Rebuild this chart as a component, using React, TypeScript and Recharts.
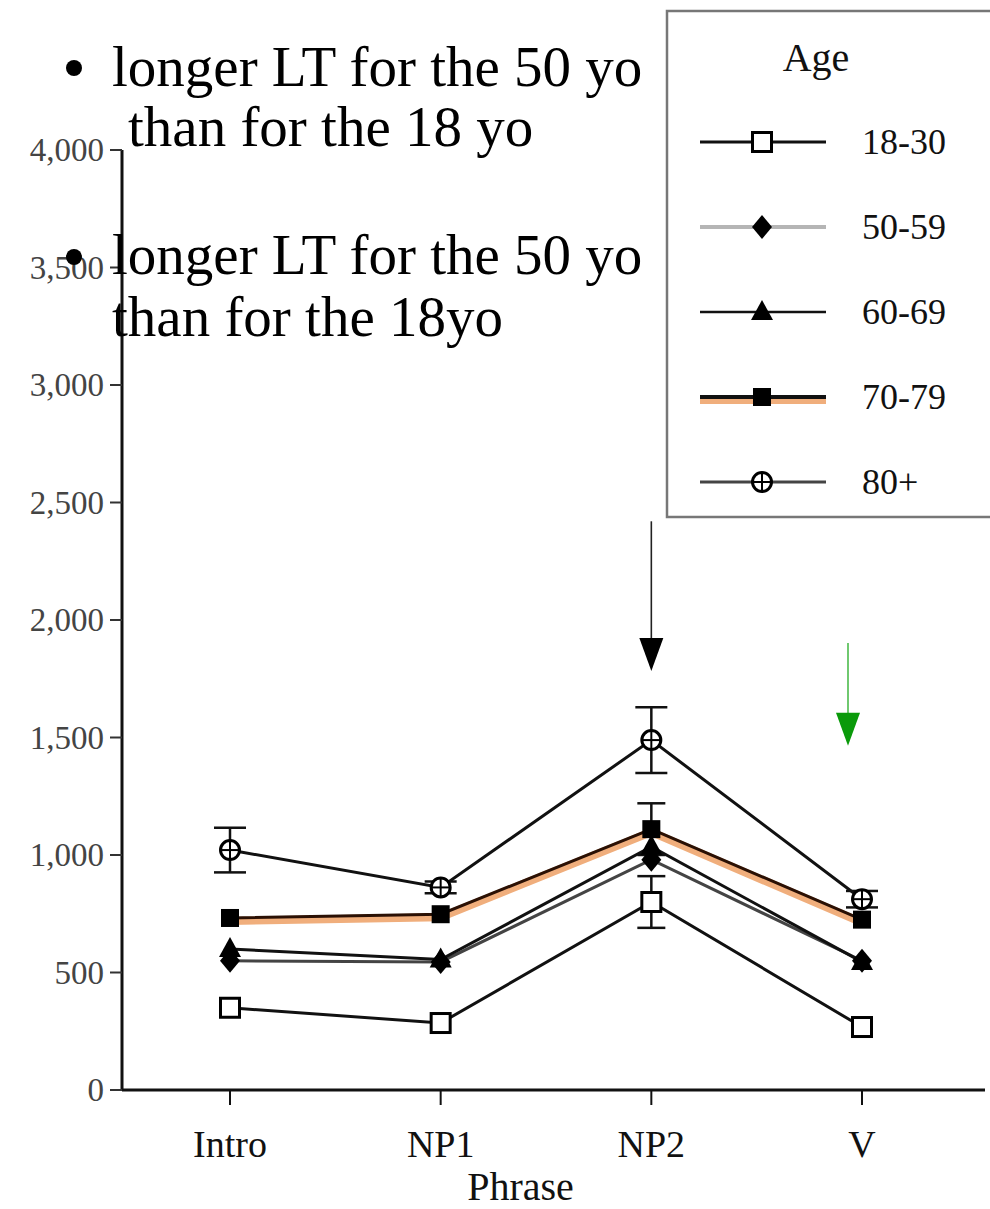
import React from "react";
import { LineChart, Line, XAxis, YAxis, ErrorBar, ReferenceLine } from "recharts";

const phrases = ["Intro", "NP1", "NP2", "V"];
const age18to30 = [350, 285, 800, 268];
const age50to59 = [550, 545, 980, 550];
const age60to69 = [600, 555, 1035, 545];
const age70to79 = [732, 748, 1110, 725];
const age80plus = [1021, 862, 1489, 812];
const err18to30 = [0, 0, 110, 0];
const err70to79 = [0, 0, 110, 0];
const err80plus = [95, 25, 140, 35];
const yTicks = [0, 500, 1000, 1500, 2000, 2500, 3000, 3500, 4000];
const ageGroups = ["18-30", "50-59", "60-69", "70-79", "80+"];

const data = phrases.map((phrase, i) => ({
  phrase,
  a1830: age18to30[i],
  a5059: age50to59[i],
  a6069: age60to69[i],
  a7079: age70to79[i],
  a80: age80plus[i],
  e1830: err18to30[i],
  e7079: err70to79[i],
  e80: err80plus[i],
}));

const serif = "'Liberation Serif', 'Times New Roman', serif";

type Kind = "openSquare" | "diamond" | "triangle" | "square" | "circle";

function Marker({ kind, cx, cy }: { kind: Kind; cx: number; cy: number }) {
  if (kind === "openSquare")
    return <rect x={cx - 9.5} y={cy - 9.5} width={19} height={19} fill="#fff" stroke="#000" strokeWidth={3} />;
  if (kind === "diamond")
    return <polygon points={`${cx},${cy - 12} ${cx + 10},${cy} ${cx},${cy + 12} ${cx - 10},${cy}`} fill="#000" />;
  if (kind === "triangle")
    return <polygon points={`${cx},${cy - 12} ${cx + 11},${cy + 8} ${cx - 11},${cy + 8}`} fill="#000" />;
  if (kind === "square") return <rect x={cx - 9} y={cy - 9} width={18} height={18} fill="#000" />;
  return (
    <g>
      <circle cx={cx} cy={cy} r={9.5} fill="#fff" stroke="#000" strokeWidth={3} />
      <line x1={cx - 9} y1={cy} x2={cx + 9} y2={cy} stroke="#000" strokeWidth={2} />
      <line x1={cx} y1={cy - 9} x2={cx} y2={cy + 9} stroke="#000" strokeWidth={2} />
    </g>
  );
}

const dotOf = (kind: Kind) => (p: any) => <Marker key={`${kind}-${p.index}`} kind={kind} cx={p.cx} cy={p.cy} />;

const legendRows: { kind: Kind; stroke: string; width: number; glow?: boolean }[] = [
  { kind: "openSquare", stroke: "#111", width: 3 },
  { kind: "diamond", stroke: "#b5b5b5", width: 4 },
  { kind: "triangle", stroke: "#111", width: 2.5 },
  { kind: "square", stroke: "#111", width: 4, glow: true },
  { kind: "circle", stroke: "#444", width: 3 },
];

const YTick = ({ x, y, payload }: any) => (
  <text x={x} y={y} dy={11} textAnchor="end" fontSize={33} fill="#444" fontFamily={serif}>
    {Number(payload.value).toLocaleString("en-US")}
  </text>
);

const XTick = ({ x, y, payload }: any) => (
  <text x={x} y={y} dy={50} textAnchor="middle" fontSize={38} fill="#111" fontFamily={serif}>
    {payload.value}
  </text>
);

const arrow = (line: string, head: string, dx: number) => (p: any) => {
  const x = p.x1 + dx;
  const tip = p.y2;
  return (
    <g>
      <line x1={x} y1={p.y1} x2={x} y2={tip - 30} stroke={line} strokeWidth={1.6} />
      <polygon points={`${x - 12},${tip - 33} ${x + 12},${tip - 33} ${x},${tip}`} fill={head} />
    </g>
  );
};

export default function App() {
  return (
    <div style={{ position: "absolute", left: 0, top: 0, width: 990, height: 1209, background: "#fff", overflow: "hidden" }}>
      <style>{`.glow-line path { transform: translateY(3px); }`}</style>
      <LineChart width={990} height={1209} data={data} margin={{ top: 150, right: 5, bottom: 0, left: 0 }}>
        <XAxis
          dataKey="phrase"
          scale="point"
          padding={{ left: 108, right: 123 }}
          height={119}
          tickSize={15}
          tickLine={{ stroke: "#111", strokeWidth: 2 }}
          axisLine={{ stroke: "#111", strokeWidth: 3 }}
          tick={<XTick />}
          label={{ value: "Phrase", position: "insideBottom", offset: 9, dx: -33, fontSize: 40, fill: "#111", fontFamily: serif }}
        />
        <YAxis
          domain={[0, 4000]}
          ticks={yTicks}
          width={122}
          tickSize={12}
          tickMargin={6}
          tickLine={{ stroke: "#333", strokeWidth: 2 }}
          axisLine={{ stroke: "#111", strokeWidth: 3 }}
          tick={<YTick />}
        />
        <Line dataKey="a1830" stroke="#111" strokeWidth={3} dot={dotOf("openSquare")} isAnimationActive={false}>
          <ErrorBar dataKey="e1830" direction="y" width={14} stroke="#111" strokeWidth={2.5} />
        </Line>
        <Line dataKey="a5059" stroke="#444" strokeWidth={3} dot={dotOf("diamond")} isAnimationActive={false} />
        <Line dataKey="a6069" stroke="#111" strokeWidth={3} dot={dotOf("triangle")} isAnimationActive={false} />
        <Line
          dataKey="a7079"
          className="glow-line"
          stroke="#f0ae7c"
          strokeWidth={8}
          dot={false}
          isAnimationActive={false}
        />
        <Line dataKey="a7079" stroke="#2a1004" strokeWidth={3} dot={dotOf("square")} isAnimationActive={false}>
          <ErrorBar dataKey="e7079" direction="y" width={14} stroke="#111" strokeWidth={2.5} />
        </Line>
        <Line dataKey="a80" stroke="#111" strokeWidth={3} dot={dotOf("circle")} isAnimationActive={false}>
          <ErrorBar dataKey="e80" direction="y" width={16} stroke="#111" strokeWidth={2.5} />
        </Line>
        <ReferenceLine
          segment={[{ x: "NP2", y: 2420 }, { x: "NP2", y: 1783 }]}
          shape={arrow("#222", "#000", 0)}
        />
        <ReferenceLine
          segment={[{ x: "V", y: 1902 }, { x: "V", y: 1465 }]}
          shape={arrow("#4cbb4c", "#0a9a0a", -14)}
        />
      </LineChart>

      <svg width={990} height={1209} style={{ position: "absolute", left: 0, top: 0, pointerEvents: "none" }}>
        <g fontFamily={serif} fill="#000" fontSize={57}>
          <circle cx={74} cy={68} r={8} />
          <text x={112} y={86}>longer LT for the 50 yo</text>
          <text x={128} y={146}>than for the 18 yo</text>
          <circle cx={74} cy={257} r={8} />
          <text x={112} y={274}>longer LT for the 50 yo</text>
          <text x={112} y={336}>than for the 18yo</text>
        </g>

        <rect x={667} y={11} width={330} height={506} fill="#fff" stroke="#777" strokeWidth={2.5} />
        <text x={816} y={71} textAnchor="middle" fontSize={40} fontFamily={serif} fill="#111">
          Age
        </text>
        {ageGroups.map((g, i) => {
          const row = legendRows[i];
          const cy = 142 + i * 85;
          return (
            <g key={g}>
              {row.glow && <line x1={700} y1={cy + 4} x2={826} y2={cy + 4} stroke="#f0ae7c" strokeWidth={6} />}
              <line x1={700} y1={cy} x2={826} y2={cy} stroke={row.stroke} strokeWidth={row.width} />
              <Marker kind={row.kind} cx={762} cy={cy} />
              <text x={862} y={cy + 12} fontSize={36} fontFamily={serif} fill="#111">
                {g}
              </text>
            </g>
          );
        })}
      </svg>
    </div>
  );
}
